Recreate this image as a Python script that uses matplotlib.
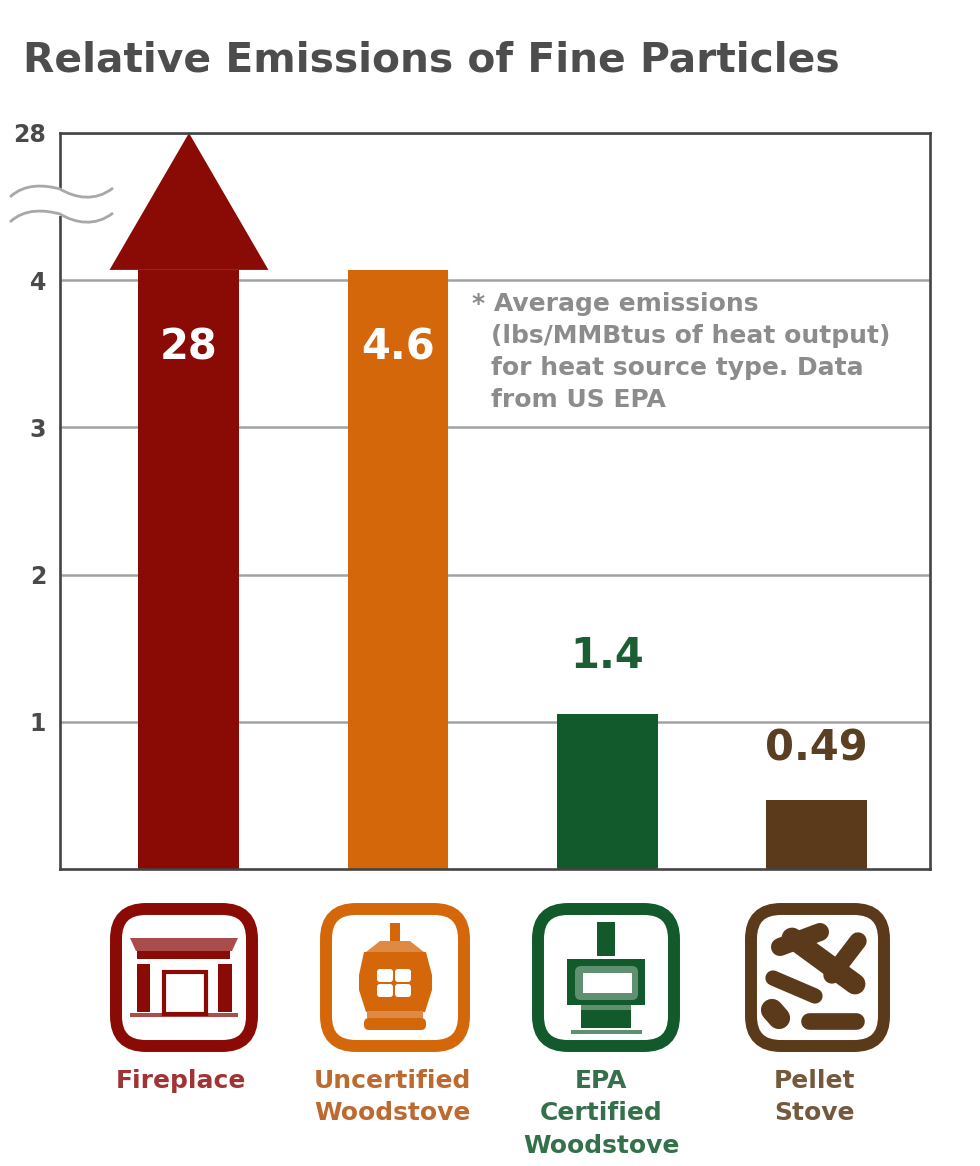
import matplotlib
matplotlib.use('Agg')
import matplotlib.pyplot as plt
from matplotlib.patches import FancyBboxPatch, Polygon, Rectangle, PathPatch
from matplotlib.path import Path

# data
categories = ['Fireplace', 'Uncertified\nWoodstove', 'EPA\nCertified\nWoodstove', 'Pellet\nStove']
value_labels = ['28', '4.6', '1.4', '0.49']
bar_heights = [4.07, 4.07, 1.05, 0.47]
ytick_pos = [1, 2, 3, 4, 5]
ytick_labels = ['1', '2', '3', '4', '28']
note_lines = ['* Average emissions', '(lbs/MMBtus of heat output)', 'for heat source type. Data', 'from US EPA']

bar_colors = ['#8a0a06', '#d5670b', '#12592c', '#5a3a1a']
text_colors = ['#a03434', '#bd6a30', '#34714a', '#75593c']
value_colors = ['white', 'white', '#1b5e33', '#5a3f22']

W, H = 980, 1166
plt.rcParams['font.family'] = ['DejaVu Sans']
fig = plt.figure(figsize=(W / 100, H / 100), dpi=100, facecolor='white')

# main chart, ticks 147 px apart
ax = fig.add_axes([60 / W, 1 - 869 / H, 870 / W, 736 / H])
ax.set_xlim(-0.617, 3.545)
ax.set_ylim(0, 5)
xs = range(len(categories))
ax.yaxis.grid(True, color='#a2a2a2', lw=1.8, zorder=1)
ax.set_axisbelow(True)
ax.bar(xs, bar_heights, width=0.483, color=bar_colors, zorder=3)
ax.add_patch(Polygon([(-0.38, bar_heights[0]), (0.38, bar_heights[0]), (0, 5)],
                     closed=True, color=bar_colors[0], zorder=3, lw=0))
ax.set_xticks([])
ax.set_yticks(ytick_pos)
ax.set_yticklabels(ytick_labels, fontsize=17, fontweight='bold', color='#4a4a4a')
ax.tick_params(axis='y', length=0, pad=10)
for s in ax.spines.values():
    s.set_color('#444444')
    s.set_linewidth(1.9)
    s.set_zorder(5)

# value labels, gap above the short bars in px
label_gap = [0, 0, 58, 51]
for i, (t, h) in enumerate(zip(value_labels, bar_heights)):
    if i < 2:
        ax.text(i, 3.54, t, color=value_colors[i], fontsize=30, fontweight='bold',
                ha='center', va='center', zorder=6)
    else:
        ax.annotate(t, (i, h), xytext=(0, label_gap[i] * 0.72), textcoords='offset points',
                    color=value_colors[i], fontsize=30, fontweight='bold',
                    ha='center', va='center', zorder=6)

# overlay in pixel coords for the title, note, axis break, icons
ov = fig.add_axes([0, 0, 1, 1], facecolor='none')
ov.set_xlim(0, W)
ov.set_ylim(H, 0)
ov.axis('off')

ov.text(23, 60, 'Relative Emissions of Fine Particles', fontsize=29.3, fontweight='bold',
        color='#4d4d4d', va='center')
for k, line in enumerate(note_lines):
    ov.text(472 if k == 0 else 491, 304 + 32 * k, line, fontsize=18, fontweight='bold',
            color='#8c8c8c', va='center')


def wave(y):
    return [(10, y + 6), (25, y - 8), (45, y - 6), (60, y - 2), (75, y + 7), (95, y + 11), (113, y - 3)]


codes = [Path.MOVETO] + [Path.CURVE4] * 6
# white gap over the y axis
ov.add_patch(Rectangle((56, 190), 9, 26, fc='white', ec='none', zorder=0.5))
for yy in (191, 216):
    ov.add_patch(PathPatch(Path(wave(yy), codes), fc='none', ec='#a8a8a8', lw=2))


def box(x0, x1, y0, y1, c):
    ov.add_patch(FancyBboxPatch((x0 + 6, y0 + 6), x1 - x0 - 12, y1 - y0 - 12,
                                boxstyle='round,pad=0,rounding_size=30', fc='white', ec=c,
                                lw=8.6, mutation_aspect=1))


def rect(x0, y0, x1, y1, c, **kw):
    ov.add_patch(Rectangle((x0, y0), x1 - x0, y1 - y0, fc=c, ec='none', **kw))


def log(p, q, w, c):
    ov.plot([p[0], q[0]], [p[1], q[1]], color=c, lw=w, solid_capstyle='round')


def fancy(x0, y0, x1, y1, r, fc):
    ov.add_patch(FancyBboxPatch((x0, y0), x1 - x0, y1 - y0,
                                boxstyle='round,pad=0,rounding_size=%d' % r, fc=fc, ec='none'))


# fireplace
c = bar_colors[0]
box(110, 258, 903, 1052, c)
ov.add_patch(Polygon([(130, 938), (238, 938), (232, 951), (136, 951)], fc='#a84c4c', ec='none'))
rect(137, 951, 230, 959, c)
rect(137, 964, 150, 1012, c)
rect(218, 964, 232, 1012, c)
rect(130, 1013, 238, 1017, '#a84c4c')
ov.add_patch(Rectangle((164, 972), 42, 42, fc='none', ec=c, lw=3))

# uncertified stove
c = bar_colors[1]
box(320, 470, 903, 1052, c)
rect(390, 923, 400, 942, c)
ov.add_patch(Polygon([(380, 941), (410, 941), (424, 952), (366, 952)], fc='#de8a45', ec='none'))
ov.add_patch(Polygon([(364, 952), (426, 952), (432, 975), (432, 990), (425, 1012), (366, 1012),
                      (359, 990), (359, 975)], fc=c, ec='none'))
for px, py in [(377, 969), (395, 969), (377, 984), (395, 984)]:
    fancy(px, py, px + 16, py + 13, 3, 'white')
rect(367, 1011, 423, 1018, '#de8a45')
fancy(364, 1018, 426, 1030, 5, c)

# epa stove
c = bar_colors[2]
box(532, 680, 903, 1052, c)
rect(597, 922, 615, 956, c)
rect(567, 959, 645, 1005, c)
fancy(575, 966, 638, 1000, 6, '#5f9170')
rect(583, 973, 632, 993, 'white')
rect(581, 1005, 631, 1010, '#5f9170')
rect(581, 1010, 631, 1028, c)
rect(571, 1030, 642, 1034, '#5f9170')

# pellets
c = bar_colors[3]
box(745, 890, 903, 1052, c)
log((780, 947), (820, 932), 13, c)
log((792, 938), (855, 984), 15, c)
log((858, 941), (832, 975), 12.5, c)
log((773, 978), (815, 996), 11, c)
log((772, 1010), (779, 1018), 16, c)
log((809, 1021), (856, 1021), 12, c)

# category labels
label_x = [181, 392, 601, 814]
for lx, cat, col in zip(label_x, categories, text_colors):
    for j, part in enumerate(cat.split('\n')):
        ov.text(lx, 1081 + 32.5 * j, part, fontsize=18, fontweight='bold', color=col,
                ha='center', va='center')

fig.savefig('out.png', dpi=100)
